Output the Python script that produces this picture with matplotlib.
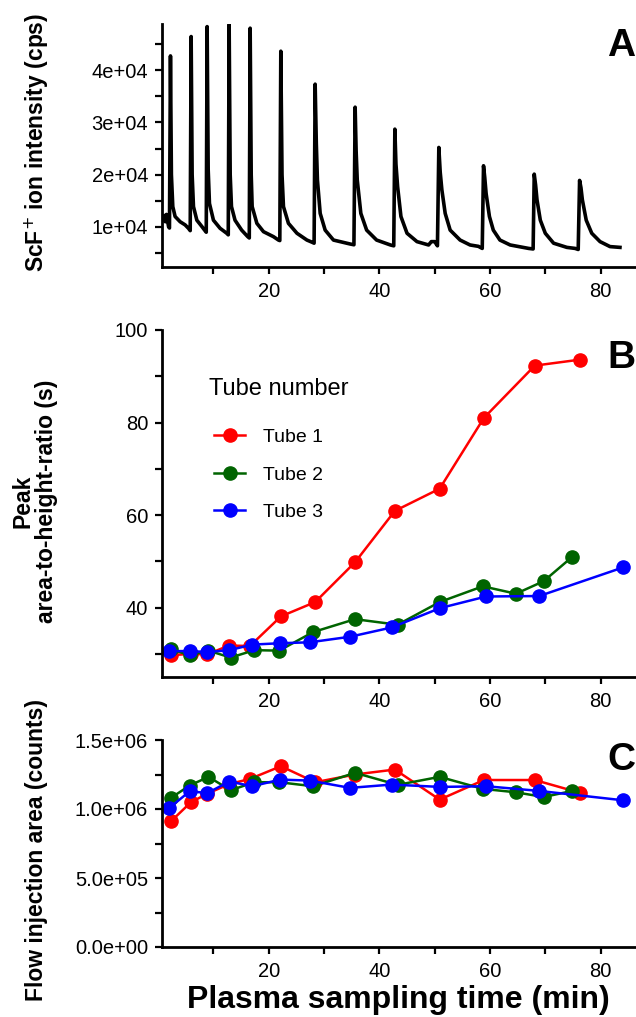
import matplotlib
matplotlib.use("Agg")
import matplotlib.pyplot as plt

plt.rcParams['font.family'] = ['Liberation Sans', 'DejaVu Sans']

# ---- panel A: ScF+ trace (time min, cps)
trace_t = [0.85, 1.1, 1.3, 1.5, 1.7, 1.9, 2.05,
           2.23, 2.4, 2.65, 3.07, 3.98, 4.88, 5.48, 5.8,
           5.97, 6.15, 6.39, 7.0, 7.9, 8.4, 8.7,
           8.86, 9.05, 9.28, 10.0, 11.2, 12.4, 12.68,
           12.84, 13.03, 13.26, 13.9, 15.1, 16.2, 16.48,
           16.64, 16.83, 17.0, 17.85, 19.05, 20.85, 21.76, 22.0,
           22.18, 22.4, 22.66, 23.56, 25.1, 26.9, 27.8, 28.2,
           28.39, 28.6, 28.8, 29.3, 30.2, 31.7, 34.7, 35.4,
           35.62, 35.8, 36.0, 36.65, 37.7, 39.5, 42.0, 42.6,
           42.8, 43.0, 43.3, 43.9, 45.0, 46.8, 48.9, 49.4, 50.0, 50.5,
           50.75, 51.0, 51.3, 51.9, 52.8, 54.6, 56.4, 57.9, 58.6,
           58.83, 59.05, 59.3, 59.9, 60.6, 61.8, 63.65, 67.0, 67.8,
           68.0, 68.25, 68.5, 69.1, 70.0, 71.5, 73.9, 75.4, 75.95,
           76.2, 76.45, 76.7, 77.4, 78.4, 79.9, 81.7, 83.5]
trace_cps = [11300, 12200, 11000, 12400, 11200, 10000, 9800,
             42700, 20000, 13900, 12000, 11000, 10400, 9750, 9300,
             46400, 20000, 13900, 11300, 10100, 9400, 9000,
             48300, 21000, 14500, 11300, 9750, 8800, 8500,
             48700, 20000, 13900, 11300, 9400, 8150, 7900,
             48000, 20000, 13900, 10700, 9100, 8150, 7500, 7400,
             43600, 20000, 13900, 10700, 8800, 7500, 7100, 6900,
             37300, 26000, 19000, 12600, 9400, 7500, 6750, 6600,
             32900, 24500, 19000, 12600, 9400, 7500, 6560, 6400,
             28700, 22000, 17700, 12000, 8800, 7200, 6560, 7200, 7200, 6400,
             25200, 20500, 17100, 12600, 9400, 7500, 6560, 6300, 5900,
             21700, 19500, 16400, 12000, 9400, 7500, 6560, 5900, 5800,
             20100, 18000, 15200, 11300, 8800, 6900, 6100, 5900, 5700,
             18900, 17500, 15200, 11300, 8800, 7200, 6250, 6100]

# ---- panels B and C
tube1_t = [2.3, 5.9, 8.9, 12.8, 16.6, 22.2, 28.4, 35.6, 42.8, 50.9, 58.9, 68.1, 76.3]
tube1_ratio = [29.7, 30.0, 29.9, 31.8, 31.7, 38.1, 41.2, 49.8, 60.9, 65.7, 81.0, 92.3, 93.6]
tube1_area = [0.91e6, 1.048e6, 1.111e6, 1.18e6, 1.218e6, 1.31e6, 1.194e6, 1.25e6,
              1.286e6, 1.068e6, 1.21e6, 1.21e6, 1.117e6]

tube2_t = [2.3, 5.7, 9.1, 13.1, 17.4, 21.9, 28.0, 35.6, 43.3, 50.9, 58.7, 64.7, 69.7, 74.9]
tube2_ratio = [31.0, 29.7, 30.7, 29.2, 30.8, 30.7, 34.7, 37.5, 36.3, 41.2, 44.6, 43.0, 45.7, 51.0]
tube2_area = [1.08e6, 1.17e6, 1.233e6, 1.136e6, 1.194e6, 1.194e6, 1.165e6, 1.262e6,
              1.175e6, 1.233e6, 1.146e6, 1.121e6, 1.087e6, 1.131e6]

tube3_t = [2.0, 5.7, 8.9, 12.9, 17.0, 22.1, 27.4, 34.7, 42.2, 51.0, 59.3, 68.9, 84.1]
tube3_ratio = [30.6, 30.6, 30.4, 30.8, 32.0, 32.3, 32.5, 33.7, 35.7, 39.9, 42.4, 42.5, 48.7]
tube3_area = [1.007e6, 1.128e6, 1.116e6, 1.199e6, 1.165e6, 1.213e6, 1.206e6, 1.153e6,
              1.177e6, 1.16e6, 1.165e6, 1.131e6, 1.063e6]

tube_labels = ['Tube 1', 'Tube 2', 'Tube 3']
tube_colors = ['#ff0000', '#006400', '#0000ff']

x_ticks = [10, 20, 30, 40, 50, 60, 70, 80]
x_ticklabels = ['', '20', '', '40', '', '60', '', '80']
a_yticks = [5e3, 1e4, 1.5e4, 2e4, 2.5e4, 3e4, 3.5e4, 4e4, 4.5e4]
a_yticklabels = ['', '1e+04', '', '2e+04', '', '3e+04', '', '4e+04', '']
b_yticks = [30, 40, 50, 60, 70, 80, 90, 100]
b_yticklabels = ['', '40', '', '60', '', '80', '', '100']
c_yticks = [0, 2.5e5, 5e5, 7.5e5, 1e6, 1.25e6, 1.5e6]
c_yticklabels = ['0.0e+00', '', '5.0e+05', '', '1.0e+06', '', '1.5e+06']

W, H = 636, 1017
fig = plt.figure(figsize=(W / 100, H / 100), dpi=100)


def px_axes(left, top, right, bottom):
    return fig.add_axes([left / W, 1 - bottom / H, (right - left) / W, (bottom - top) / H])


def style(ax):
    for s in ['top', 'right']:
        ax.spines[s].set_visible(False)
    for s in ['left', 'bottom']:
        ax.spines[s].set_linewidth(2)
    ax.tick_params(width=1.6, length=5, labelsize=14.5, direction='out')
    ax.tick_params(axis='x', pad=6)
    ax.tick_params(axis='y', pad=5)
    ax.set_xlim(0.7, 86.4)
    ax.set_xticks(x_ticks)
    ax.set_xticklabels(x_ticklabels)


axA = px_axes(162, 24, 636, 267)
axB = px_axes(162, 330, 636, 677)
axC = px_axes(162, 740, 636, 947)

# A
axA.plot(trace_t, trace_cps, color='black', lw=2.6, solid_joinstyle='round')
style(axA)
axA.set_ylim(2350, 48800)
axA.set_yticks(a_yticks)
axA.set_yticklabels(a_yticklabels)

# B
for t, r, c, lab in zip([tube1_t, tube2_t, tube3_t], [tube1_ratio, tube2_ratio, tube3_ratio],
                        tube_colors, tube_labels):
    axB.plot(t, r, '-o', color=c, lw=1.8, ms=9.5, label=lab)
style(axB)
axB.set_ylim(25, 100)
axB.set_yticks(b_yticks)
axB.set_yticklabels(b_yticklabels)
axB.text(0.099, (677 - 389) / 347, 'Tube number', transform=axB.transAxes,
         ha='left', va='center', fontsize=17)
axB.legend(loc='upper left', bbox_to_anchor=(0.09, 0.744), frameon=False, fontsize=14,
           borderpad=0, labelspacing=1.02, handlelength=1.6, handletextpad=0.9)

# C
for t, a, c in zip([tube1_t, tube2_t, tube3_t], [tube1_area, tube2_area, tube3_area], tube_colors):
    axC.plot(t, a, '-o', color=c, lw=1.8, ms=9.5)
style(axC)
axC.set_ylim(0, 1.5e6)
axC.set_yticks(c_yticks)
axC.set_yticklabels(c_yticklabels)

# labels
lab_kw = dict(rotation=90, ha='center', va='center', fontsize=16.5, fontweight='bold')
fig.text(37 / W, 1 - 142 / H, 'ScF$^{+}$ ion intensity (cps)', **lab_kw)
fig.text(35 / W, 1 - 501 / H, 'Peak\narea-to-height-ratio (s)', multialignment='center',
         linespacing=1.05, **lab_kw)
fig.text(37 / W, 1 - 850 / H, 'Flow injection area (counts)', **lab_kw)
fig.text(398 / W, 1 - 1000 / H, 'Plasma sampling time (min)', ha='center', va='center',
         fontsize=23, fontweight='bold')

for letter, top in zip(['A', 'B', 'C'], [28, 340, 742]):
    fig.text(621 / W, 1 - top / H, letter, ha='center', va='top', fontsize=28, fontweight='bold')

fig.savefig('out.png', dpi=100)
